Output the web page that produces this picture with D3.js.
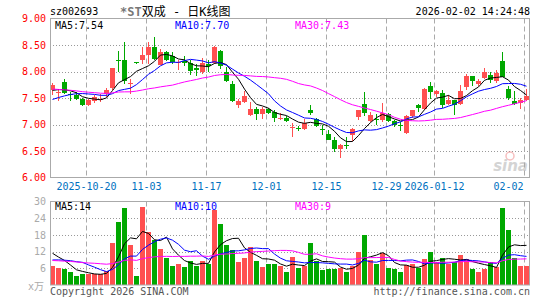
<!DOCTYPE html>
<html><head><meta charset="utf-8">
<script src="https://cdn.jsdelivr.net/npm/d3@7/dist/d3.min.js"></script>
<style>body{margin:0;background:#fff}svg{display:block}</style>
</head><body><svg id="c" width="545" height="300"></svg>
<script>
// ---- data ----
const tickIdx = [6, 16, 26, 36, 46, 56, 64, 79];
const tickLabels = ["2025-10-20", "11-03", "11-17", "12-01", "12-15", "12-29", "2026-01-12", "02-02"];
const priceTicks = [6, 6.5, 7, 7.5, 8, 8.5, 9];
const volTicks = [6, 12, 18, 24, 30];
const maPriceLabels = ["MA5:7.54", "MA10:7.70", "MA30:7.43"];
const maVolLabels = ["MA5:14", "MA10:10", "MA30:9"];

const open = [7.66,7.61,7.80,7.58,7.55,7.49,7.37,7.44,7.48,7.57,
 7.69,8.21,8.21,7.77,8.17,8.21,8.31,8.46,8.13,8.37,
 8.30,8.16,8.19,8.16,8.06,7.99,8.14,8.16,8.39,8.00,
 7.76,7.37,7.43,7.18,7.29,7.20,7.29,7.23,7.12,7.13,
 6.95,6.94,6.91,7.27,7.11,6.92,6.83,6.71,6.53,6.62,
 6.80,7.14,7.38,7.07,7.11,7.08,7.19,7.07,6.99,6.84,
 7.16,7.36,7.30,7.72,7.58,7.60,7.38,7.46,7.38,7.70,
 7.91,7.76,7.875,7.925,7.82,8.19,7.675,7.44,7.41,7.46];
const high = [7.79,7.675,7.86,7.61,7.61,7.50,7.49,7.55,7.57,7.68,
 8.06,8.38,8.56,7.86,8.17,8.47,8.55,8.66,8.42,8.39,
 8.36,8.21,8.30,8.21,8.14,8.26,8.22,8.48,8.40,8.08,
 7.82,7.49,7.64,7.425,7.33,7.33,7.32,7.27,7.21,7.16,
 7.02,6.975,7.11,7.36,7.13,6.99,6.90,6.76,6.625,6.77,
 6.93,7.28,7.61,7.24,7.19,7.41,7.21,7.09,7.05,7.18,
 7.28,7.38,7.68,7.81,7.66,7.65,7.56,7.47,7.74,7.96,
 7.91,7.86,8.06,7.99,8.02,8.36,7.72,7.625,7.50,7.675];
const low = [7.55,7.44,7.58,7.44,7.47,7.34,7.35,7.41,7.43,7.52,
 7.66,8.00,7.76,7.58,8.15,8.14,8.14,8.22,8.12,8.19,
 8.14,8.03,8.11,7.93,7.91,7.96,7.99,8.15,8.04,7.80,
 7.43,7.32,7.41,7.16,7.09,7.11,7.20,7.05,7.08,7.05,
 6.77,6.875,6.89,7.18,6.95,6.80,6.70,6.49,6.375,6.53,
 6.69,7.09,7.16,7.05,6.99,7.05,7.04,6.96,6.88,6.82,
 7.13,7.24,7.28,7.49,7.52,7.32,7.36,7.17,7.36,7.66,
 7.72,7.72,7.86,7.78,7.78,7.89,7.47,7.36,7.30,7.44];
const close = [7.74,7.62,7.59,7.56,7.48,7.37,7.47,7.52,7.49,7.66,
 8.06,8.20,7.82,7.78,8.16,8.32,8.46,8.24,8.37,8.22,
 8.18,8.17,8.16,8.01,8.02,8.16,8.10,8.47,8.10,7.82,
 7.44,7.44,7.54,7.29,7.19,7.29,7.225,7.13,7.13,7.07,
 6.96,6.93,7.02,7.225,6.97,6.91,6.71,6.545,6.61,6.61,
 6.92,7.27,7.21,7.17,7.08,7.22,7.06,6.99,6.98,7.16,
 7.27,7.31,7.675,7.61,7.63,7.36,7.47,7.36,7.63,7.91,
 7.82,7.82,7.99,7.84,7.97,7.89,7.50,7.38,7.47,7.54];
// volume in 10k lots
const volume = [7.0,6.2,5.9,4.8,3.4,4.1,3.8,3.8,4.1,5.0,
 15.0,22.6,27.5,14.5,3.4,28.2,19.0,16.2,13.1,9.6,
 7.0,7.6,6.6,8.8,7.0,8.8,7.7,27.1,21.8,14.2,
 12.7,8.2,9.8,13.8,8.8,6.6,7.7,7.7,7.0,4.8,
 10.2,6.2,6.7,15.0,8.8,5.5,5.9,5.9,6.2,4.8,
 7.0,11.8,18.1,9.1,7.7,11.5,6.2,5.9,4.8,7.3,
 7.7,6.2,9.5,12.0,8.4,9.8,7.7,8.4,10.6,9.5,
 5.9,4.8,5.9,8.4,6.6,27.8,19.6,9.8,7.0,7.0];
// estimated history before the first candle (only used for the moving averages)
const priorClose = [7.85,7.82,7.80,7.84,7.80,7.78,7.76,7.80,7.78,7.74,
 7.74,7.72,7.76,7.74,7.72,7.76,7.78,7.74,7.72,7.70,
 7.25,7.28,7.30,7.33,7.34,7.55,7.60,7.66,7.67];
const priorVolume = [9,10,8,9,11,8,7,9,10,8,7,9,8,10,9,8,8,9,8,9,
 6,7,6.5,7,6.5,13,12,13,12];

// ---- drawing ----
const N = close.length;
const svg = d3.select("#c");
const mono = "'DejaVu Sans Mono','Noto Sans CJK SC',monospace";
const RED = "#ff5050", GREEN = "#00a800";
const L = 50, R = 530;
const x = d3.scaleLinear().domain([0, N]).range([L, R]);
const y = d3.scaleLinear().domain([6, 9]).range([177.5, 18.5]);
const yv = d3.scaleLinear().domain([0, 30]).range([285, 201.5]);

function ma(hist, arr, n) {
  const all = hist.concat(arr), off = hist.length;
  return d3.range(arr.length).map(i => d3.mean(all.slice(off + i - n + 1, off + i + 1)));
}

// grids
function grid(ys, scale, top, bottom, ticks) {
  const g = svg.append("g");
  g.selectAll("line.h").data(ticks).join("line")
    .attr("x1", L).attr("x2", R)
    .attr("y1", d => Math.round(scale(d)) + 0.5).attr("y2", d => Math.round(scale(d)) + 0.5)
    .attr("stroke", "#999").attr("stroke-dasharray", "1,2");
  g.selectAll("line.v").data(tickIdx).join("line")
    .attr("x1", d => x(d) + 0.5).attr("x2", d => x(d) + 0.5)
    .attr("y1", top).attr("y2", bottom)
    .attr("stroke", "#aaa").attr("stroke-dasharray", "5,3");
}
grid(null, y, 18.5, 177.5, [6.5, 7, 7.5, 8, 8.5]);
grid(null, yv, 201.5, 285, [6, 12, 18, 24]);

// watermark
const wm = svg.append("g").attr("opacity", 0.5);
wm.append("circle").attr("cx", 510).attr("cy", 156).attr("r", 4).attr("fill", "none").attr("stroke", "#f08080").attr("stroke-width", 1.5);
wm.append("text").attr("x", 528).attr("y", 171).attr("text-anchor", "end")
  .attr("font-family", "'DejaVu Sans'").attr("font-size", 15).attr("font-style", "italic").attr("font-weight", "bold")
  .attr("fill", "#aaa").text("sina");

// candles
const cg = svg.append("g");
const idx = d3.range(N);
const col = i => close[i] >= open[i] ? RED : GREEN;
cg.selectAll("line.w").data(idx).join("line")
  .attr("x1", i => x(i) + 2.5).attr("x2", i => x(i) + 2.5)
  .attr("y1", i => y(high[i])).attr("y2", i => y(low[i]))
  .attr("stroke", col).attr("shape-rendering", "crispEdges");
cg.selectAll("rect").data(idx).join("rect")
  .attr("x", i => x(i)).attr("width", 5)
  .attr("y", i => Math.round(y(Math.max(open[i], close[i]))))
  .attr("height", i => Math.max(1, Math.round(y(Math.min(open[i], close[i]))) - Math.round(y(Math.max(open[i], close[i])))))
  .attr("fill", col).attr("shape-rendering", "crispEdges");

// price MAs
const line = sc => d3.line().x((d, i) => x(i) + 2.5).y(d => sc(d));
[[5, "#000"], [10, "#0000ff"], [30, "#ff00ff"]].forEach(([n, c]) => {
  svg.append("path").attr("d", line(y)(ma(priorClose, close, n))).attr("fill", "none").attr("stroke", c).attr("stroke-width", 1);
});

// volume bars
svg.append("g").selectAll("rect").data(idx).join("rect")
  .attr("x", i => x(i)).attr("width", 5)
  .attr("y", i => Math.round(yv(volume[i]))).attr("height", i => yv(0) - Math.round(yv(volume[i])))
  .attr("fill", col).attr("shape-rendering", "crispEdges");
[[5, "#000"], [10, "#0000ff"], [30, "#ff00ff"]].forEach(([n, c]) => {
  svg.append("path").attr("d", line(yv)(ma(priorVolume, volume, n))).attr("fill", "none").attr("stroke", c).attr("stroke-width", 1);
});

// frames
svg.append("rect").attr("x", 50.5).attr("y", 18.5).attr("width", 479).attr("height", 159).attr("fill", "none").attr("stroke", "#aaa");
svg.append("rect").attr("x", 50.5).attr("y", 201.5).attr("width", 479).attr("height", 83.5).attr("fill", "none").attr("stroke", "#aaa");

// axes
const ya = svg.append("g").attr("transform", `translate(${L},0)`)
  .call(d3.axisLeft(y).tickValues(priceTicks).tickFormat(d3.format(".2f")).tickSize(0).tickPadding(4));
ya.select(".domain").remove();
ya.selectAll("text").attr("fill", "#f00").attr("font-family", mono).attr("font-size", 10);

const va = svg.append("g").attr("transform", `translate(${L},0)`)
  .call(d3.axisLeft(yv).tickValues(volTicks).tickSize(0).tickPadding(4));
va.select(".domain").remove();
va.selectAll("text").attr("fill", "#aaa").attr("font-family", mono).attr("font-size", 10);

const xa = svg.append("g").attr("transform", `translate(0,177.5)`)
  .call(d3.axisBottom(x).tickValues(tickIdx).tickFormat((d, i) => tickLabels[i]).tickSize(0).tickPadding(5));
xa.select(".domain").remove();
xa.selectAll("text").attr("fill", "#0070c0").attr("font-family", mono).attr("font-size", 10);
xa.selectAll(".tick").filter(d => d === tickIdx[tickIdx.length - 1]).select("text").attr("text-anchor", "end").attr("x", -1);

// texts
const txt = (s, xx, yy, fill, anchor, size) => svg.append("text").attr("x", xx).attr("y", yy)
  .attr("fill", fill).attr("font-family", mono).attr("font-size", size || 10).attr("text-anchor", anchor || "start").text(s);
txt("sz002693", 50, 15, "#000");
const t = svg.append("text").attr("x", 120).attr("y", 15.5).attr("font-family", mono).attr("font-size", 12).attr("fill", "#000");
t.append("tspan").attr("fill", "#777").attr("font-weight", "bold").text("*ST");
t.append("tspan").text("双成 - 日K线图");
txt("2026-02-02 14:24:48", 530, 15, "#000", "end");
txt(maPriceLabels[0], 55, 28.5, "#000");
txt(maPriceLabels[1], 175, 28.5, "#0000ff");
txt(maPriceLabels[2], 295, 28.5, "#ff00ff");
txt(maVolLabels[0], 55, 209.5, "#000");
txt(maVolLabels[1], 175, 209.5, "#0000ff");
txt(maVolLabels[2], 295, 209.5, "#ff00ff");
txt("x万", 44, 289.5, "#aaa", "end");
txt("Copyright 2026 SINA.COM", 50, 295, "#555");
txt("http://finance.sina.com.cn", 530, 295, "#555", "end");
</script></body></html>
